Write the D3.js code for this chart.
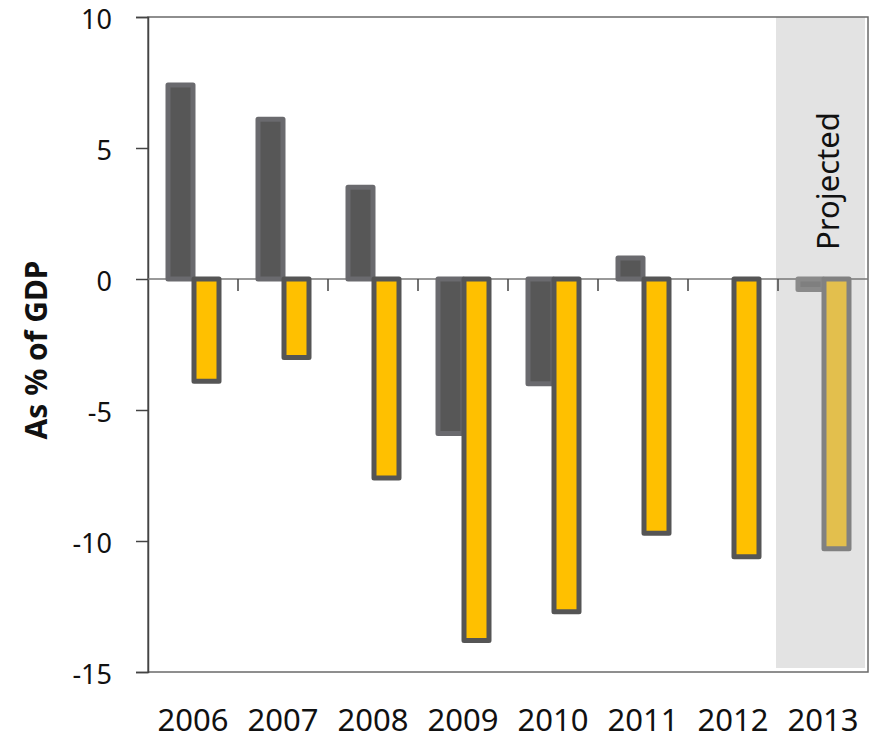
<!DOCTYPE html>
<html>
<head>
<meta charset="utf-8">
<script src="https://cdn.jsdelivr.net/npm/d3@7"></script>
<style>
  body { margin: 0; background: #fff; }
  text { font-family: "Noto Sans", Lato, sans-serif; }
</style>
</head>
<body>
<svg id="chart" width="875" height="739"></svg>
<script>
// values (% of GDP)
const years = ["2006", "2007", "2008", "2009", "2010", "2011", "2012", "2013"];
const grayValues = [7.4, 6.1, 3.5, -5.9, -4.0, 0.8, 0, -0.4];
const yellowValues = [-3.9, -3.0, -7.6, -13.8, -12.7, -9.7, -10.6, -10.3];
const yTicks = [10, 5, 0, -5, -10, -15];
const projectedYear = "2013";

const svg = d3.select("#chart");
const plotLeft = 148, plotRight = 868, plotTop = 17, plotBottom = 672;

const x = d3.scaleBand().domain(years).range([plotLeft, plotRight]).padding(0);
const y = d3.scaleLinear().domain([-15, 10]).range([plotBottom, plotTop]);
const barW = 25;

// projected shading
svg.append("rect")
  .attr("x", x(projectedYear) - 2)
  .attr("y", y(10))
  .attr("width", x.bandwidth() - 1)
  .attr("height", y(-15) - y(10) - 4)
  .attr("fill", "#e3e3e3");

// frame
svg.append("rect")
  .attr("x", plotLeft).attr("y", plotTop)
  .attr("width", plotRight - plotLeft).attr("height", plotBottom - plotTop)
  .attr("fill", "none").attr("stroke", "#6a6a6a").attr("stroke-width", 1.5);

// left axis
const yAxis = svg.append("g")
  .attr("transform", "translate(" + plotLeft + ",0)")
  .call(d3.axisLeft(y).tickValues(yTicks).tickSize(12).tickPadding(24).tickFormat(d3.format("d")));
yAxis.select(".domain").attr("stroke", "#444").attr("stroke-width", 1.5);
yAxis.selectAll(".tick line").attr("stroke", "#444").attr("stroke-width", 1.5);
yAxis.selectAll(".tick text")
  .attr("font-size", 27).attr("fill", "#111")
  .attr("dy", "0.42em")
  .text(d => d < 0 ? "-" + Math.abs(d) : d);

// zero line with category ticks
svg.append("line")
  .attr("x1", plotLeft).attr("x2", plotRight)
  .attr("y1", y(0)).attr("y2", y(0))
  .attr("stroke", "#777").attr("stroke-width", 1.5);
svg.selectAll(".cat-tick")
  .data(years.slice(1))
  .join("line")
  .attr("class", "cat-tick")
  .attr("x1", d => x(d)).attr("x2", d => x(d))
  .attr("y1", y(0)).attr("y2", y(0) + 12)
  .attr("stroke", "#444").attr("stroke-width", 1.5);

// gray bars
svg.selectAll(".bar-gray")
  .data(years.map((yr, i) => ({ yr, v: grayValues[i] })).filter(d => d.v !== 0))
  .join("rect")
  .attr("class", "bar-gray")
  .attr("x", d => x(d.yr) + x.bandwidth() / 2 - barW)
  .attr("y", d => y(Math.max(0, d.v)))
  .attr("width", barW)
  .attr("height", d => Math.abs(y(d.v) - y(0)))
  .attr("fill", d => d.yr === projectedYear ? "#7f7f7f" : "#575757")
  .attr("stroke", d => d.yr === projectedYear ? "#8a8a8a" : "#6a6a6e")
  .attr("stroke-width", 5)
  .attr("stroke-linejoin", "round");

// yellow bars
svg.selectAll(".bar-yellow")
  .data(years.map((yr, i) => ({ yr, v: yellowValues[i] })))
  .join("rect")
  .attr("class", "bar-yellow")
  .attr("x", d => x(d.yr) + x.bandwidth() / 2 + 1)
  .attr("y", d => y(Math.max(0, d.v)))
  .attr("width", barW)
  .attr("height", d => Math.abs(y(d.v) - y(0)))
  .attr("fill", d => d.yr === projectedYear ? "#e3bf4d" : "#ffc000")
  .attr("stroke", d => d.yr === projectedYear ? "#818181" : "#555555")
  .attr("stroke-width", 5)
  .attr("stroke-linejoin", "round");

// x labels
svg.selectAll(".x-label")
  .data(years)
  .join("text")
  .attr("class", "x-label")
  .attr("x", d => x(d) + x.bandwidth() / 2)
  .attr("y", 731)
  .attr("text-anchor", "middle")
  .attr("font-size", 31)
  .attr("fill", "#111")
  .text(d => d);

// y title
svg.append("text")
  .attr("transform", "translate(47,350) rotate(-90)")
  .attr("text-anchor", "middle")
  .attr("font-size", 30)
  .attr("font-weight", "bold")
  .attr("fill", "#111")
  .text("As % of GDP");

// projected label
svg.append("text")
  .attr("transform", "translate(" + (x(projectedYear) + x.bandwidth() / 2 + 16) + ",250) rotate(-90)")
  .attr("text-anchor", "start")
  .attr("font-size", 31)
  .attr("fill", "#111")
  .text("Projected");
</script>
</body>
</html>
